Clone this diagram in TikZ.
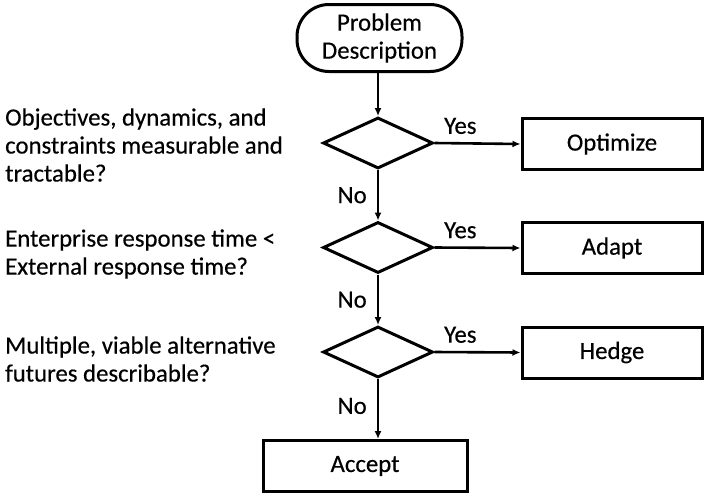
\documentclass[tikz,border=0pt]{standalone}
\usepackage{fontspec}
\setmainfont{Carlito}[FakeBold=0.4]
\usetikzlibrary{shapes.geometric,arrows.meta}
\begin{document}
\begin{tikzpicture}[x=1pt,y=-1pt,
  every node/.style={font=\fontsize{24.8}{28}\selectfont},
  conn/.style={line width=2.6pt,-{Latex[length=8pt,width=7pt]}},
  term/.style={draw,line width=3pt,rounded corners=32pt,minimum width=165pt,minimum height=67pt,align=center,inner sep=0pt},
  dec/.style={draw,line width=3pt,diamond,aspect=2.15,minimum width=110pt,minimum height=51pt,inner sep=0pt},
  act/.style={draw,line width=3pt,minimum width=180pt,minimum height=51pt,inner sep=0pt},
  lab/.style={inner sep=0pt},
  q/.style={anchor=west,align=left,inner sep=0pt}]
\useasboundingbox (0,0) rectangle (709,496);
\node[term] (start) at (379.5,38) {Problem\\Description};
\node[dec] (d1) at (378,143) {};
\node[dec] (d2) at (378,247.5) {};
\node[dec] (d3) at (378,352) {};
\node[act] (opt) at (612,144) {Optimize};
\node[act] (ada) at (612,248) {Adapt};
\node[act,minimum width=204pt] (acc) at (365,466) {Accept};
\node[act] (hed) at (612,352.5) {Hedge};
\draw[conn] (start.south -| d1.north) -- (d1.north);
\draw[conn] (d1.south) -- node[lab,left=10pt,pos=0.5]{No} (d2.north);
\draw[conn] (d2.south) -- node[lab,left=10pt,pos=0.5]{No} (d3.north);
\draw[conn] (d3.south) -- node[lab,left=10pt,pos=0.45]{No} (d3.south |- acc.north);
\draw[conn] (d1.east) -- node[lab,above=8pt,pos=0.3]{Yes} (opt.west);
\draw[conn] (d2.east) -- node[lab,above=8pt,pos=0.3]{Yes} (ada.west);
\draw[conn] (d3.east) -- node[lab,above=8pt,pos=0.3]{Yes} (hed.west);
\node[q] (q1) at (5,145) {Objectives, dynamics, and\\constraints measurable and\\tractable?};
\node[q] (q2) at (5,254) {Enterprise response time <\\External response time?};
\node[q] (q3) at (5,359) {Multiple, viable alternative\\futures describable?};
\end{tikzpicture}
\end{document}
